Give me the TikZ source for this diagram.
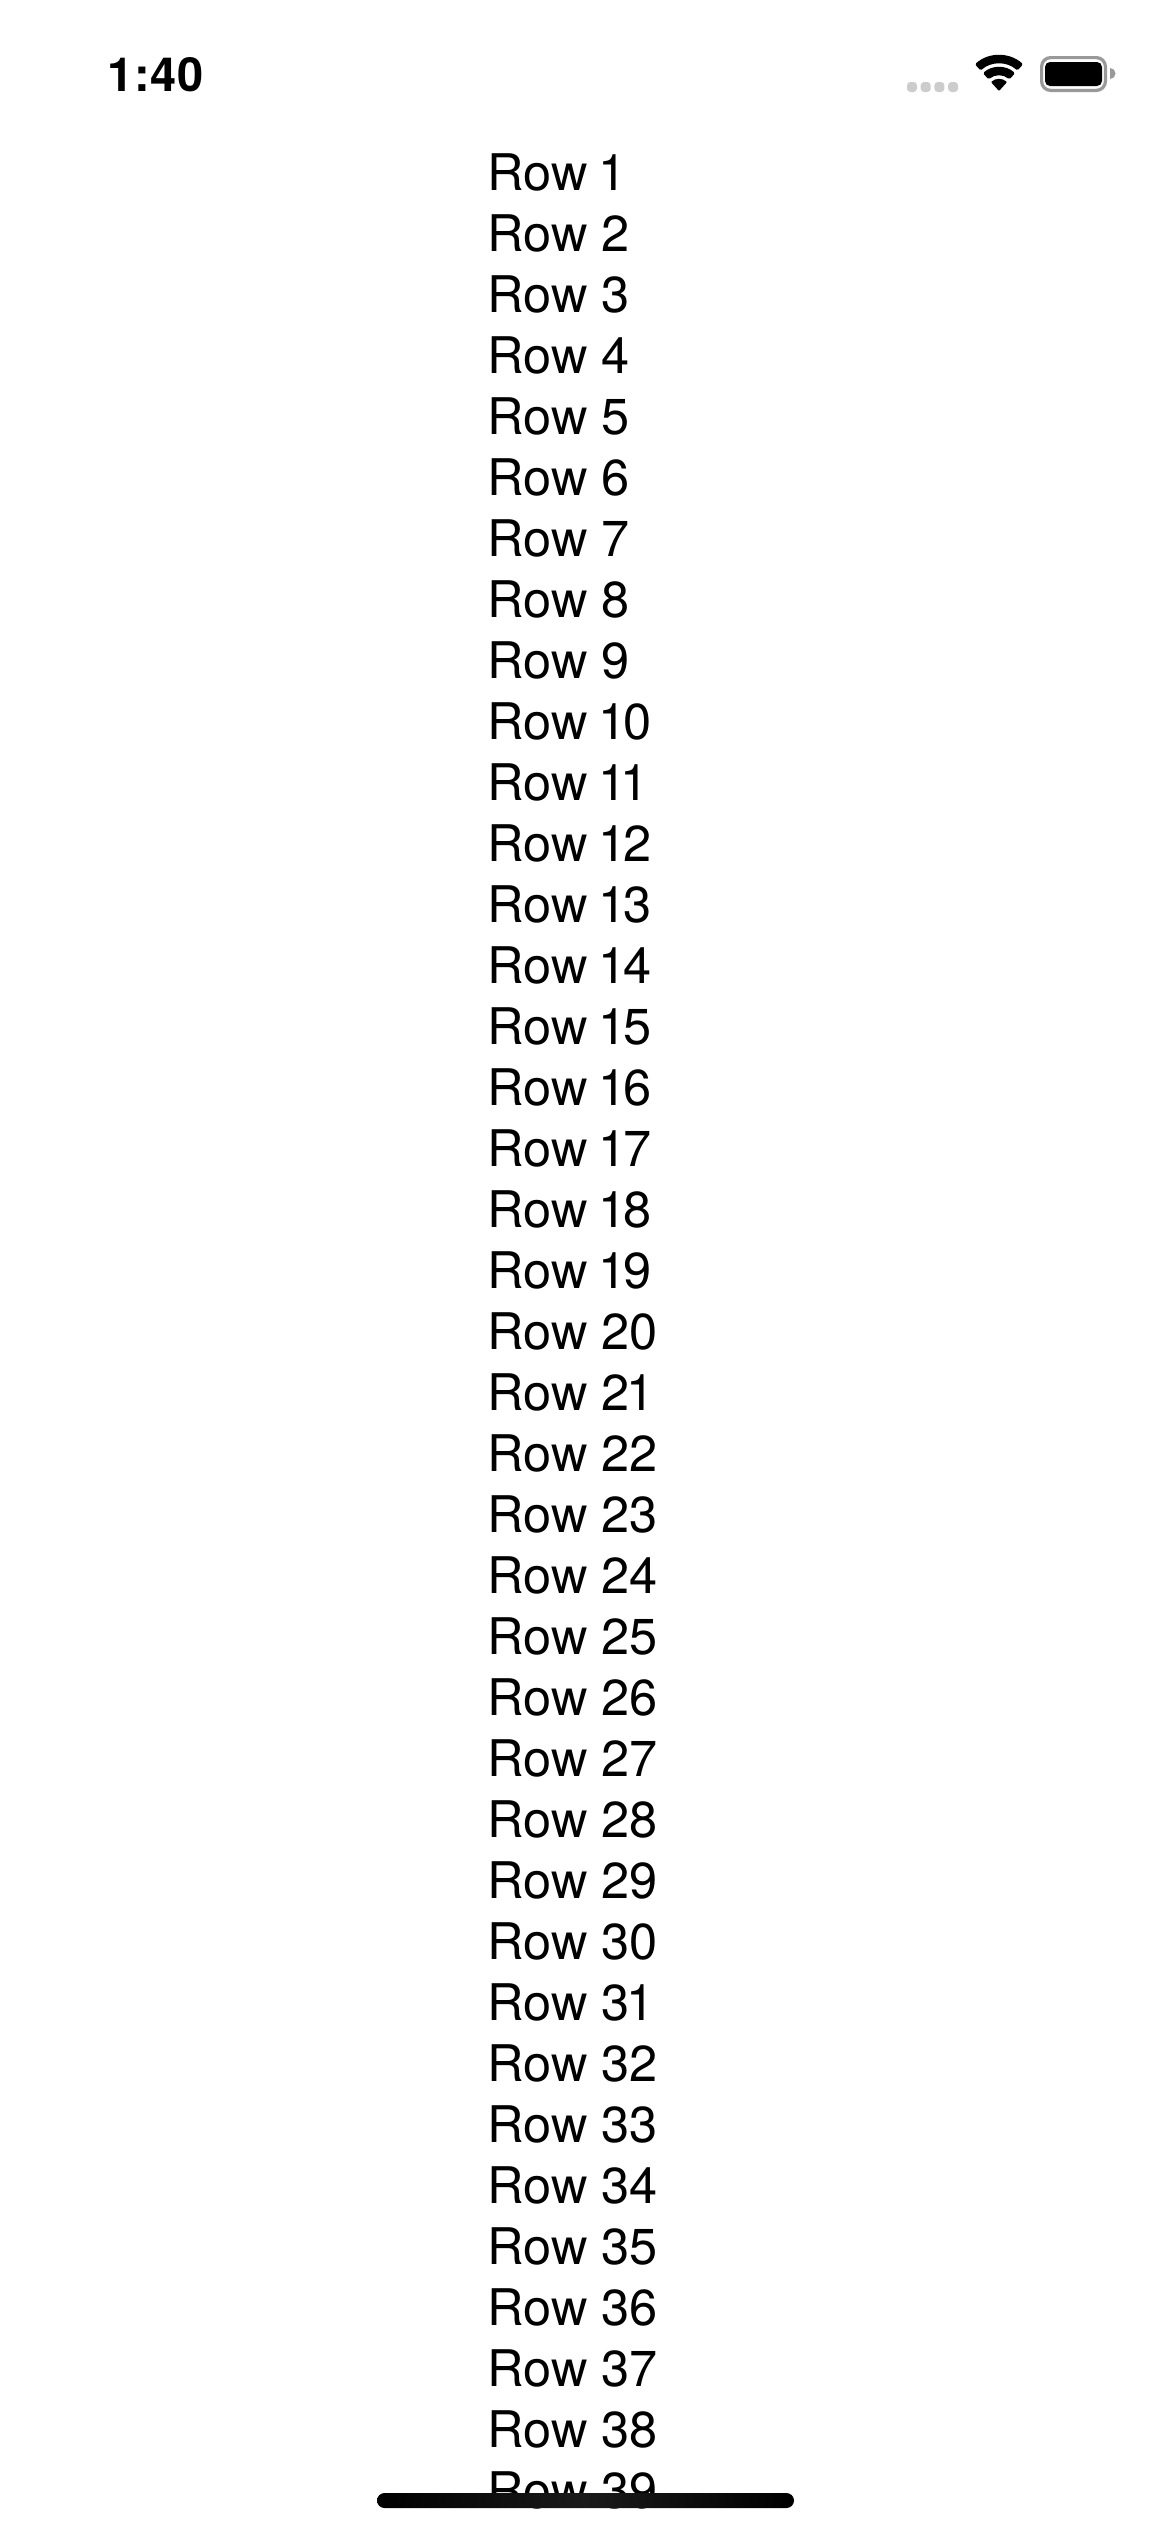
\documentclass[tikz,border=0pt]{standalone}
\usepackage{fontspec}
\setmainfont{TeX Gyre Heros}
\tikzset{
  rowlabel/.style={anchor=base west,inner sep=0pt,font=\fontsize{50.5}{60}\selectfont,text=black},
  timelabel/.style={anchor=base west,inner sep=0pt,font=\fontsize{47}{54}\selectfont\bfseries,text=black},
  sigdot/.style={fill=sigdotgray,draw=none,rounded corners=3.5pt,minimum size=10pt,inner sep=0pt}
}
\definecolor{barmid}{HTML}{1A1A1A}
\definecolor{sigdotgray}{HTML}{CCCCCC}
\definecolor{batgray}{HTML}{999999}
\newcommand\rowdig[1]{\ifnum#1=1 \kern-3pt 1\kern-3pt \else #1\fi}
\begin{document}
\begin{tikzpicture}[x=1pt,y=-1pt]
\useasboundingbox (0,0) rectangle (1170,2532);
\fill[white] (0,0) rectangle (1170,2532);
\node[timelabel] (time) at (107,91) {1\kern1pt:\kern1pt 4\kern.6pt 0};
\foreach \i in {1,...,39}{
  \pgfmathtruncatemacro\tensd{int(\i/10)}
  \pgfmathtruncatemacro\unitd{\i-10*\tensd}
  \node[rowlabel] (row\i) at (487.5,{190+(\i-1)*61}) {Row \ifnum\tensd>0 \rowdig{\tensd}\fi\rowdig{\unitd}};
}
\foreach \i in {0,1,2,3}{
  \node[sigdot] (sig\i) at ({912+\i*13.7},87) {};
}
% wifi
\begin{scope}[shift={(999,91)},x=1pt,y=1pt]
\fill[black,rounded corners=1.5pt] (132:36pt) arc[start angle=132,end angle=48,radius=36pt] -- (48:27.5pt) arc[start angle=48,end angle=132,radius=27.5pt] -- cycle;
\fill[black,rounded corners=1.5pt] (132:24pt) arc[start angle=132,end angle=48,radius=24pt] -- (48:15.5pt) arc[start angle=48,end angle=132,radius=15.5pt] -- cycle;
\fill[black,rounded corners=0.8pt] (0,0) -- (132:12pt) arc[start angle=132,end angle=48,radius=12pt] -- cycle;
\end{scope}
% battery
\draw[batgray,line width=3.2pt,rounded corners=9pt] (1041.6,57.6) rectangle (1105.4,90.4);
\fill[black,rounded corners=5pt] (1045,62) rectangle (1102,86);
\fill[batgray] (1110,68) arc[start angle=90,end angle=-90,radius=5.5pt] -- cycle;
% home bar
\path[left color=black,right color=black,middle color=barmid,rounded corners=7.5pt] (377,2493) rectangle (794,2508);
\end{tikzpicture}
\end{document}
